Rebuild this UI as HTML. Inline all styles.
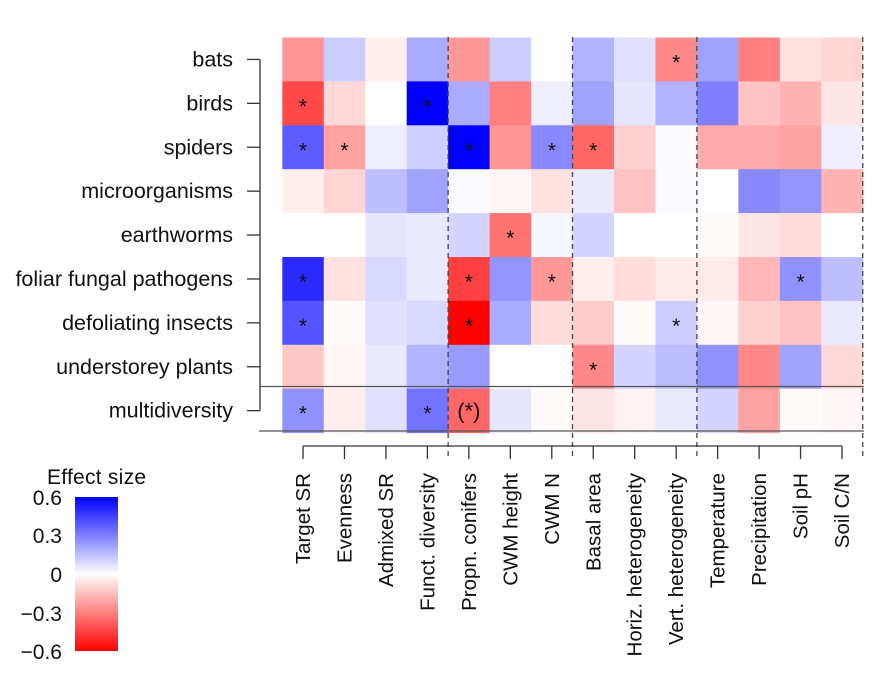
<!DOCTYPE html>
<html><head><meta charset="utf-8"><style>
body{margin:0;background:#fff;}
svg{display:block;font-family:"Liberation Sans",Arial,sans-serif;}
</style></head><body>
<svg id="chart" width="876" height="679" viewBox="0 0 876 679" xmlns="http://www.w3.org/2000/svg">
<defs>
<linearGradient id="cg" x1="0" y1="0" x2="0" y2="1">
<stop offset="0" stop-color="#0000ff"/><stop offset="0.5" stop-color="#ffffff"/><stop offset="1" stop-color="#ff0000"/>
</linearGradient>
</defs>
<g id="cells"></g>
<g id="axes"></g>
<g>
<text x="47" y="484" font-size="21" fill="#111" textLength="99">Effect size</text>
<rect x="75" y="497" width="43" height="154" fill="url(#cg)"/>
<g font-size="21" fill="#111" text-anchor="end">
<text x="62" y="505">0.6</text>
<text x="62" y="543">0.3</text>
<text x="62" y="582">0</text>
<text x="62" y="621">−0.3</text>
<text x="62" y="659">−0.6</text>
</g>
</g>
</svg>
<script>
const rows = ["bats","birds","spiders","microorganisms","earthworms","foliar fungal pathogens","defoliating insects","understorey plants","multidiversity"];
const cols = ["Target SR","Evenness","Admixed SR","Funct. diversity","Propn. conifers","CWM height","CWM N","Basal area","Horiz. heterogeneity","Vert. heterogeneity","Temperature","Precipitation","Soil pH","Soil C/N"];
const effects = [
 [-0.25,0.12,-0.04,0.2,-0.24,0.12,0,0.18,0.07,-0.28,0.22,-0.3,-0.07,-0.1],
 [-0.43,-0.09,0,0.6,0.2,-0.3,0.04,0.22,0.06,0.18,0.3,-0.14,-0.18,-0.06],
 [0.38,-0.22,0.04,0.11,0.6,-0.25,0.28,-0.36,-0.11,0.01,-0.2,-0.2,-0.22,0.04],
 [-0.04,-0.1,0.15,0.22,0.01,-0.02,-0.07,0.05,-0.14,0.01,0,0.28,0.25,-0.18],
 [0,0,0.06,0.05,0.1,-0.33,0.02,0.1,0,0,-0.01,-0.06,-0.08,0],
 [0.5,-0.07,0.09,0.05,-0.45,0.25,-0.24,-0.04,-0.08,-0.05,-0.05,-0.17,0.26,0.15],
 [0.4,-0.01,0.07,0.09,-0.6,0.2,-0.08,-0.12,-0.01,0.12,-0.02,-0.11,-0.14,0.05],
 [-0.13,-0.02,0.05,0.18,0.24,0,0,-0.28,0.1,0.15,0.26,-0.28,0.22,-0.09],
 [0.26,-0.04,0.07,0.33,-0.36,0.06,-0.01,-0.06,-0.03,0.05,0.1,-0.22,-0.01,-0.02]
];
const stars = [[0,9],[1,0],[1,3],[2,0],[2,1],[2,4],[2,6],[2,7],[4,5],[5,0],[5,4],[5,6],[5,12],[6,0],[6,4],[6,9],[7,7],[8,0],[8,3]];
const parenStars = [[8,4]];
const groupBreaks = [4,7,10,14];

const NS="http://www.w3.org/2000/svg";
const x0=282.3, cw=41.46, y0=37.5, rh=43.9;
const xPos=c=>x0+c*cw, yPos=r=>y0+r*rh;
function color(v){const t=Math.min(1,Math.abs(v)/0.6);const k=Math.round(255*(1-t));return v>=0?`rgb(${k},${k},255)`:`rgb(255,${k},${k})`;}
function mk(tag,attrs,parent){const e=document.createElementNS(NS,tag);for(const a in attrs)e.setAttribute(a,attrs[a]);parent.appendChild(e);return e;}
const cells=document.getElementById('cells'), axes=document.getElementById('axes');
effects.forEach((row,r)=>row.forEach((v,c)=>{
 const e=mk('rect',{x:xPos(c),y:yPos(r),width:cw+0.5,height:rh+0.5,fill:color(v)},cells);
 
 
}));
stars.forEach(([r,c])=>{
 const t=mk('text',{x:xPos(c)+cw/2,y:yPos(r)+rh/2+10,'text-anchor':'middle','font-size':'21',fill:'#111'},cells);
 t.textContent='*';
 
 
});
parenStars.forEach(([r,c])=>{
 const t=mk('text',{x:xPos(c)+cw/2,y:yPos(r)+rh/2+8,'text-anchor':'middle','font-size':'22',fill:'#111'},cells);
 t.textContent='(*)';
 
 
});
groupBreaks.forEach(b=>{
 const l=mk('line',{x1:xPos(b),x2:xPos(b),y1:37,y2:456,stroke:'#444','stroke-width':1.3,'stroke-dasharray':'5,4'},axes);
 
 
});
let hl=mk('line',{x1:260,x2:864,y1:386.5,y2:386.5,stroke:'#555','stroke-width':1.3},axes);


hl=mk('line',{x1:259,x2:864,y1:431,y2:431,stroke:'#555','stroke-width':1.3},axes);


let ya=mk('line',{x1:260,x2:260,y1:yPos(0)+rh/2,y2:yPos(8)+rh/2,stroke:'#333','stroke-width':1.3},axes);


rows.forEach((n,r)=>{
 const y=yPos(r)+rh/2;
 const tk=mk('line',{x1:247,x2:260,y1:y,y2:y,stroke:'#333','stroke-width':1.3},axes);
 
 
 const t=mk('text',{x:233,y:y+7,'text-anchor':'end','font-size':'21.5',fill:'#111'},axes);
 t.textContent=n;
 
 
});
let xa=mk('line',{x1:xPos(0)+cw/2,x2:xPos(13)+cw/2,y1:446,y2:446,stroke:'#333','stroke-width':1.3},axes);


cols.forEach((n,c)=>{
 const x=xPos(c)+cw/2;
 const tk=mk('line',{x1:x,x2:x,y1:446,y2:459,stroke:'#333','stroke-width':1.3},axes);
 
 
 const t=mk('text',{x:x+7,y:473,'text-anchor':'end','font-size':'20.5',fill:'#111',transform:`rotate(-90 ${x+7} 473)`},axes);
 t.textContent=n;
 
 
});
</script>
</body></html>
